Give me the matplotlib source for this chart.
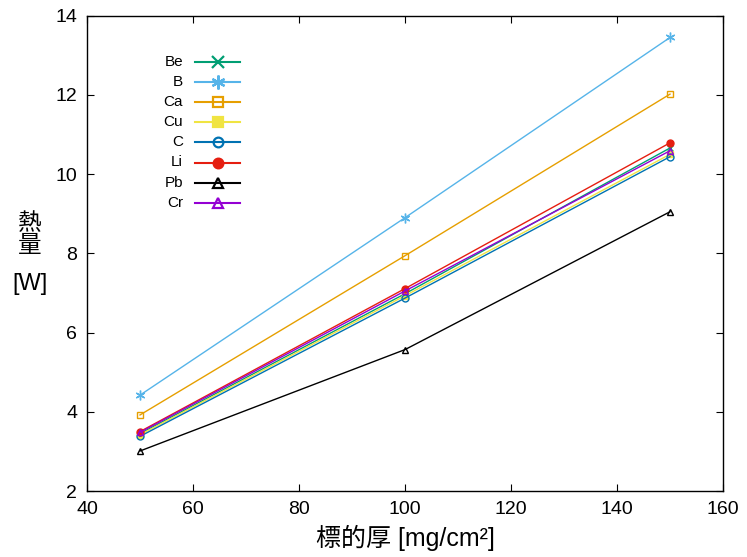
import matplotlib
matplotlib.use("Agg")
import matplotlib.pyplot as plt

plt.rcParams['font.family'] = ['Liberation Sans', 'Noto Sans CJK JP', 'DejaVu Sans']

# thickness of target [mg/cm2]
thickness = [50, 100, 150]

# heat [W] per element
names = ['Be', 'B', 'Ca', 'Cu', 'C', 'Li', 'Pb', 'Cr']
heat = {
    'Be': [3.45, 6.98, 10.66],
    'B':  [4.42, 8.90, 13.45],
    'Ca': [3.92, 7.94, 12.02],
    'Cu': [3.42, 6.93, 10.50],
    'C':  [3.38, 6.87, 10.44],
    'Li': [3.50, 7.11, 10.79],
    'Pb': [3.01, 5.57, 9.05],
    'Cr': [3.48, 7.05, 10.59],
}
x_ticks = [40, 60, 80, 100, 120, 140, 160]
y_ticks = [2, 4, 6, 8, 10, 12, 14]

# gnuplot-like styles: colour, marker, filled
styles = {
    'Be': ('#009e73', 'x', True),
    'B':  ('#56b4e9', '*', True),
    'Ca': ('#e69f00', 's', False),
    'Cu': ('#f0e442', 's', True),
    'C':  ('#0072b2', 'o', False),
    'Li': ('#e51e10', 'o', True),
    'Pb': ('#000000', '^', False),
    'Cr': ('#9400d3', '^', False),
}

fig = plt.figure(figsize=(7.47, 5.57), dpi=100)
ax = fig.add_axes([87/747, 1-491/557, (723-87)/747, (491-15.7)/557])

for n in names:
    col, mk, filled = styles[n]
    ms = 5
    if mk == '*':
        mk = (6, 2, 0)  # asterisk
        ms = 7
    ax.plot(thickness, heat[n], color=col, lw=1, marker=mk, ms=ms, mew=1,
            mfc=col if filled else 'none', mec=col)

# legend drawn by hand so labels are right aligned like gnuplot
for i, n in enumerate(names):
    col, mk, filled = styles[n]
    ms = 7
    if mk == '*':
        mk = (6, 2, 0)
        ms = 10
    elif mk == 'x':
        ms = 9
    y = 1 - (62 - 15.7 + i * 20.1) / (491 - 15.7)
    ax.text((183 - 87) / 636, y, n, transform=ax.transAxes, ha='right', va='center', fontsize=11)
    ax.plot([(195 - 87) / 636, (240 - 87) / 636], [y, y], transform=ax.transAxes, color=col, lw=1.5)
    ax.plot([(218 - 87) / 636], [y], transform=ax.transAxes, color=col, marker=mk, ms=ms, mew=1.6,
            mfc=col if filled else 'none', mec=col, lw=0)

ax.set_xlim(40, 160)
ax.set_ylim(2, 14)
ax.set_xticks(x_ticks)
ax.set_yticks(y_ticks)
ax.tick_params(direction='in', top=True, right=True, length=5, labelsize=14, pad=7)
for s in ax.spines.values():
    s.set_linewidth(1)

ax.set_xlabel('標的厚 [mg/cm²]', fontsize=18, labelpad=5)
fig.text(30/747, 1-235/557, '熱\n量', ha='center', va='center', fontsize=17, linespacing=1.0)
fig.text(30/747, 1-284/557, '[W]', ha='center', va='center', fontsize=17)

fig.savefig('out.png', dpi=100)
